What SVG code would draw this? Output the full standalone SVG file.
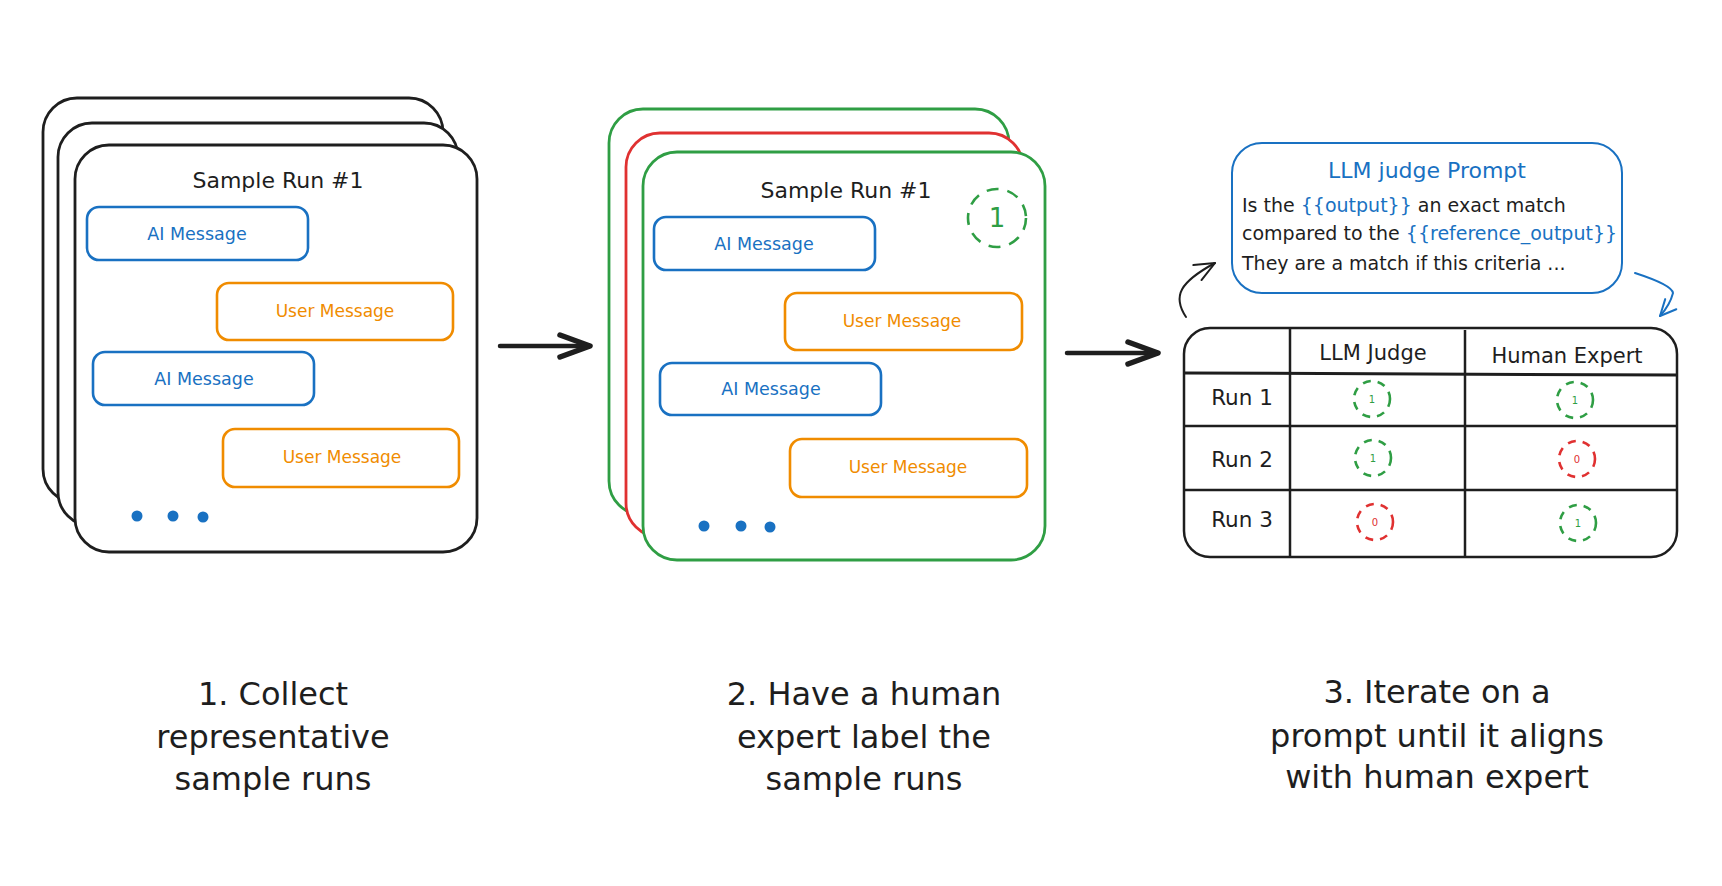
<svg xmlns="http://www.w3.org/2000/svg" width="1722" height="886" viewBox="0 0 1722 886">
  <style>
    text { font-family: "DejaVu Sans", "Liberation Sans", sans-serif; fill: #1e1e1e; }
    .card { fill: #ffffff; stroke: #1e1e1e; stroke-width: 2.8; }
    .cardG { fill: #ffffff; stroke: #2f9e44; stroke-width: 2.8; }
    .cardR { fill: #ffffff; stroke: #e03131; stroke-width: 2.8; }
    .ai { fill: #ffffff; stroke: #1971c2; stroke-width: 2.6; }
    .user { fill: #ffffff; stroke: #f08c00; stroke-width: 2.6; }
    .aiT { fill: #1971c2; font-size: 17.5px; text-anchor: middle; }
    .userT { fill: #f08c00; font-size: 17px; text-anchor: middle; }
    .title { font-size: 22px; text-anchor: middle; }
    .dot { fill: #1971c2; }
    .blue { fill: #1971c2; }
    .prompt { font-size: 19px; }
    .tline { stroke: #1e1e1e; stroke-width: 2.5; fill: none; }
    .hdr { font-size: 21px; text-anchor: middle; }
    .run { font-size: 21.5px; text-anchor: middle; }
    .dashG { fill: none; stroke: #2f9e44; stroke-width: 2.6; stroke-dasharray: 8 7; }
    .dashR { fill: none; stroke: #e03131; stroke-width: 2.6; stroke-dasharray: 8 7; }
    .numG { fill: #2f9e44; font-size: 10px; text-anchor: middle; }
    .numR { fill: #e03131; font-size: 10px; text-anchor: middle; }
    .caption { font-size: 32px; text-anchor: middle; }
    .bigArrow { fill: none; stroke: #1e1e1e; stroke-width: 4.5; stroke-linecap: round; }
    .loopK { fill: none; stroke: #1e1e1e; stroke-width: 2; stroke-linecap: round; }
    .loopB { fill: none; stroke: #1971c2; stroke-width: 2; stroke-linecap: round; }
  </style>
  <defs>
    <marker id="headBig" viewBox="-38 -18 44 36" markerWidth="44" markerHeight="36" refX="0" refY="0" orient="auto" markerUnits="userSpaceOnUse">
      <path d="M-30,-11 L0,0 L-30,11" fill="none" stroke="#1e1e1e" stroke-width="5.5" stroke-linecap="round" stroke-linejoin="round"/>
    </marker>
    <marker id="headK" viewBox="-24 -12 28 24" markerWidth="28" markerHeight="24" refX="0" refY="0" orient="auto" markerUnits="userSpaceOnUse">
      <path d="M-20,-8.5 L0,0 L-20,8.5" fill="none" stroke="#1e1e1e" stroke-width="2" stroke-linecap="round" stroke-linejoin="round"/>
    </marker>
    <marker id="headB" viewBox="-24 -12 28 24" markerWidth="28" markerHeight="24" refX="0" refY="0" orient="auto" markerUnits="userSpaceOnUse">
      <path d="M-16,-7.5 L0,0 L-16,7.5" fill="none" stroke="#1971c2" stroke-width="2" stroke-linecap="round" stroke-linejoin="round"/>
    </marker>
  </defs>

  <rect x="0" y="0" width="1722" height="886" fill="#ffffff"/>

  <!-- Panel 1 -->
  <g id="panel1-stack">
    <rect class="card" x="43" y="98" width="400" height="405" rx="34"/>
    <rect class="card" x="58" y="123" width="400" height="403" rx="34"/>
    <rect class="card" x="75" y="145" width="402" height="407" rx="34"/>
    <text class="title" x="278" y="188">Sample Run #1</text>
  </g>
  <g id="p1-ai1">
    <rect class="ai" x="87" y="207" width="221" height="53" rx="12"/>
    <text class="aiT" x="197" y="240">AI Message</text>
  </g>
  <g id="p1-user1">
    <rect class="user" x="217" y="283" width="236" height="57" rx="12"/>
    <text class="userT" x="335" y="317">User Message</text>
  </g>
  <g id="p1-ai2">
    <rect class="ai" x="93" y="352" width="221" height="53" rx="12"/>
    <text class="aiT" x="204" y="385">AI Message</text>
  </g>
  <g id="p1-user2">
    <rect class="user" x="223" y="429" width="236" height="58" rx="12"/>
    <text class="userT" x="342" y="463">User Message</text>
  </g>
  <g id="p1-dots">
    <circle class="dot" cx="137" cy="516" r="5.5"/>
    <circle class="dot" cx="173" cy="516" r="5.5"/>
    <circle class="dot" cx="203" cy="517" r="5.5"/>
  </g>

  <!-- Panel 2 -->
  <g id="panel2-stack">
    <rect class="cardG" x="609" y="109" width="400" height="406" rx="34"/>
    <rect class="cardR" x="626" y="133" width="397" height="404" rx="34"/>
    <rect class="cardG" x="643" y="152" width="402" height="408" rx="34"/>
    <text class="title" x="846" y="198">Sample Run #1</text>
  </g>
  <g id="p2-label">
    <circle class="dashG" cx="997" cy="218" r="29" style="stroke-dasharray: 12 9;"/>
    <text x="997" y="227" style="fill:#2f9e44; font-size:26px; text-anchor:middle;">1</text>
  </g>
  <g id="p2-ai1">
    <rect class="ai" x="654" y="217" width="221" height="53" rx="12"/>
    <text class="aiT" x="764" y="250">AI Message</text>
  </g>
  <g id="p2-user1">
    <rect class="user" x="785" y="293" width="237" height="57" rx="12"/>
    <text class="userT" x="902" y="327">User Message</text>
  </g>
  <g id="p2-ai2">
    <rect class="ai" x="660" y="363" width="221" height="52" rx="12"/>
    <text class="aiT" x="771" y="395">AI Message</text>
  </g>
  <g id="p2-user2">
    <rect class="user" x="790" y="439" width="237" height="58" rx="12"/>
    <text class="userT" x="908" y="473">User Message</text>
  </g>
  <g id="p2-dots">
    <circle class="dot" cx="704" cy="526" r="5.5"/>
    <circle class="dot" cx="741" cy="526" r="5.5"/>
    <circle class="dot" cx="770" cy="527" r="5.5"/>
  </g>

  <!-- Panel 3: prompt -->
  <g id="prompt">
    <rect x="1232" y="143" width="390" height="150" rx="30" fill="#ffffff" stroke="#1971c2" stroke-width="2"/>
    <text class="blue" x="1427" y="178" style="font-size:22px; text-anchor:middle;">LLM judge Prompt</text>
    <text class="prompt" x="1242" y="212">Is the <tspan class="blue">{{output}}</tspan> an exact match</text>
    <text class="prompt" x="1242" y="240">compared to the <tspan class="blue">{{reference_output}}</tspan></text>
    <text class="prompt" x="1242" y="270">They are a match if this criteria ...</text>
  </g>

  <!-- Panel 3: table -->
  <g id="table">
    <rect class="tline" x="1184" y="328" width="493" height="229" rx="26"/>
    <line class="tline" x1="1290" y1="328" x2="1290" y2="557"/>
    <line class="tline" x1="1465" y1="330" x2="1465" y2="557"/>
    <line class="tline" x1="1184" y1="373" x2="1677" y2="375" style="stroke-width:3"/>
    <line class="tline" x1="1184" y1="426" x2="1677" y2="426"/>
    <line class="tline" x1="1184" y1="490" x2="1677" y2="490"/>
    <text class="hdr" x="1373" y="360">LLM Judge</text>
    <text class="hdr" x="1567" y="363">Human Expert</text>
    <text class="run" x="1242" y="405">Run 1</text>
    <text class="run" x="1242" y="467">Run 2</text>
    <text class="run" x="1242" y="527">Run 3</text>
  </g>
  <g id="score-r1-llm">
    <circle class="dashG" cx="1372" cy="399" r="18"/>
    <text class="numG" x="1372" y="403">1</text>
  </g>
  <g id="score-r1-human">
    <circle class="dashG" cx="1575" cy="400" r="18"/>
    <text class="numG" x="1575" y="404">1</text>
  </g>
  <g id="score-r2-llm">
    <circle class="dashG" cx="1373" cy="458" r="18"/>
    <text class="numG" x="1373" y="462">1</text>
  </g>
  <g id="score-r2-human">
    <circle class="dashR" cx="1577" cy="459" r="18"/>
    <text class="numR" x="1577" y="463">0</text>
  </g>
  <g id="score-r3-llm">
    <circle class="dashR" cx="1375" cy="522" r="18"/>
    <text class="numR" x="1375" y="526">0</text>
  </g>
  <g id="score-r3-human">
    <circle class="dashG" cx="1578" cy="523" r="18"/>
    <text class="numG" x="1578" y="527">1</text>
  </g>

  <!-- Captions -->
  <g id="caption1">
    <text class="caption" x="273" y="705">1. Collect</text>
    <text class="caption" x="273" y="748">representative</text>
    <text class="caption" x="273" y="790">sample runs</text>
  </g>
  <g id="caption2">
    <text class="caption" x="864" y="705">2. Have a human</text>
    <text class="caption" x="864" y="748">expert label the</text>
    <text class="caption" x="864" y="790">sample runs</text>
  </g>
  <g id="caption3">
    <text class="caption" x="1437" y="703">3. Iterate on a</text>
    <text class="caption" x="1437" y="747">prompt until it aligns</text>
    <text class="caption" x="1437" y="788">with human expert</text>
  </g>

  <!-- Connectors -->
  <g id="connectors">
    <path class="bigArrow" d="M500,346 L590,346" marker-end="url(#headBig)"/>
    <path class="bigArrow" d="M1067,353 L1158,353" marker-end="url(#headBig)"/>
    <path class="loopK" d="M1186,317 C1172,296 1180,282 1215,263" marker-end="url(#headK)"/>
    <path class="loopB" d="M1635,273 Q1672,285 1673,293 Q1670,305 1660,316" marker-end="url(#headB)"/>
  </g>
</svg>
